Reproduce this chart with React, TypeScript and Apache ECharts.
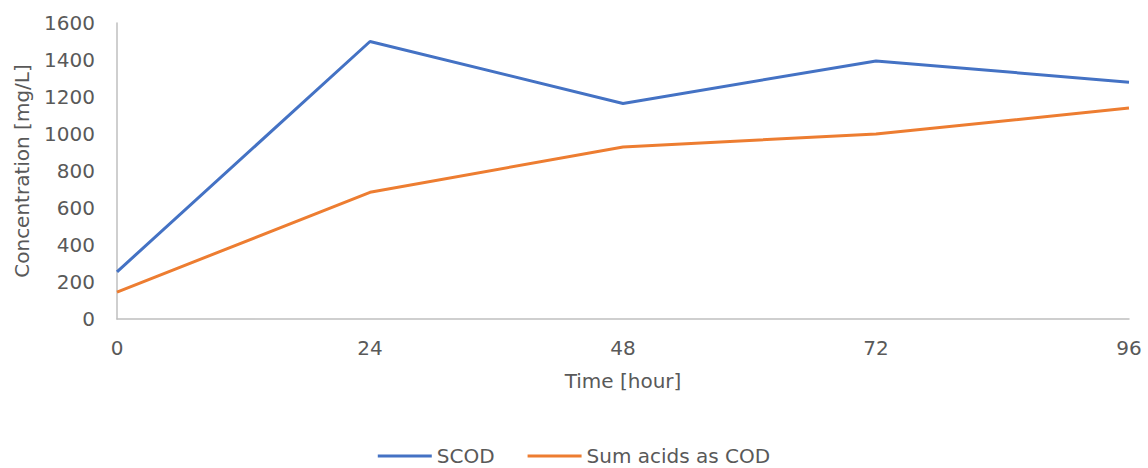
import React, { useEffect, useRef } from "react";
import * as echarts from "echarts";

// Sampling times [hour]
const hours = [0, 24, 48, 72, 96];
// Soluble COD [mg/L]
const scod = [255, 1500, 1165, 1395, 1280];
// Sum of volatile acids expressed as COD [mg/L]
const sumAcids = [145, 685, 930, 1000, 1140];

const FONT = "'DejaVu Sans', Verdana, sans-serif";
const TEXT = "#595959";
const AXIS = "#BFBFBF";
const FS = 20;

export default function App() {
  const ref = useRef<HTMLDivElement>(null);

  useEffect(() => {
    if (!ref.current) return;
    const chart = echarts.init(ref.current, undefined, { renderer: "svg" });
    chart.setOption({
      animation: false,
      backgroundColor: "#ffffff",
      textStyle: { fontFamily: FONT },
      grid: { left: 117, right: 19, top: 23, bottom: 149, containLabel: false },
      xAxis: {
        type: "value",
        min: 0,
        max: 96,
        interval: 24,
        name: "Time [hour]",
        nameLocation: "middle",
        nameGap: 52,
        nameTextStyle: { color: TEXT, fontSize: FS, fontFamily: FONT },
        axisLine: { show: true, lineStyle: { color: AXIS, width: 1.5 } },
        axisTick: { show: false },
        splitLine: { show: false },
        axisLabel: { color: TEXT, fontSize: FS, margin: 19, fontFamily: FONT },
      },
      yAxis: {
        type: "value",
        min: 0,
        max: 1600,
        interval: 200,
        name: "Concentration [mg/L]",
        nameLocation: "middle",
        nameGap: 85,
        nameTextStyle: { color: TEXT, fontSize: FS, fontFamily: FONT },
        axisLine: { show: true, lineStyle: { color: AXIS, width: 1.5 } },
        axisTick: { show: false },
        splitLine: { show: false },
        axisLabel: {
          color: TEXT,
          fontSize: FS,
          margin: 22,
          fontFamily: FONT,
          formatter: (v: number) => String(v),
        },
      },
      legend: {
        top: 441,
        left: "center",
        itemWidth: 54,
        itemHeight: 3,
        itemGap: 33,
        icon: "rect",
        textStyle: { color: TEXT, fontSize: FS, fontFamily: FONT },
        data: ["SCOD", "Sum acids as COD"],
      },
      series: [
        {
          name: "SCOD",
          type: "line",
          data: hours.map((h, i) => [h, scod[i]]),
          showSymbol: false,
          lineStyle: { color: "#4472C4", width: 3 },
          itemStyle: { color: "#4472C4" },
        },
        {
          name: "Sum acids as COD",
          type: "line",
          data: hours.map((h, i) => [h, sumAcids[i]]),
          showSymbol: false,
          lineStyle: { color: "#ED7D31", width: 3 },
          itemStyle: { color: "#ED7D31" },
        },
      ],
    });
    return () => chart.dispose();
  }, []);

  return (
    <div
      ref={ref}
      style={{ position: "fixed", left: 0, top: 0, width: 1148, height: 468 }}
    />
  );
}
